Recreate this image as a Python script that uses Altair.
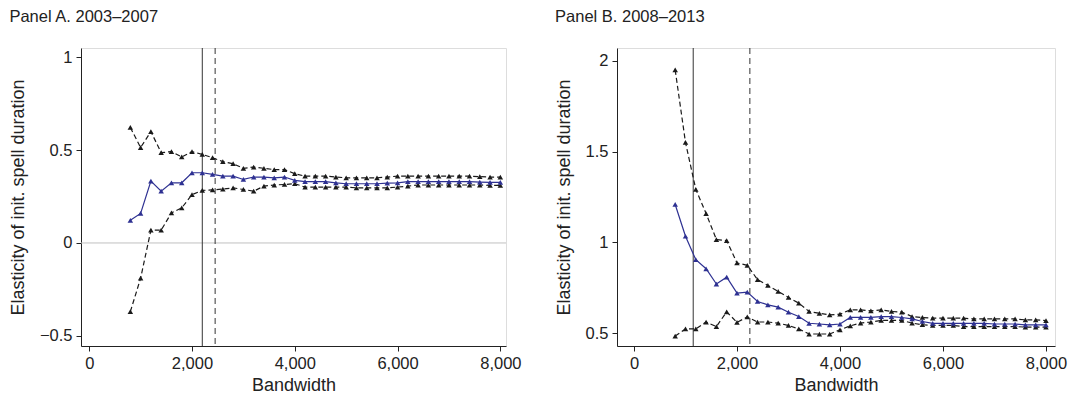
import altair as alt
import pandas as pd

bandwidth = list(range(800, 8001, 200))

a_lower = [-0.37, -0.19, 0.069, 0.069, 0.162, 0.189, 0.26, 0.283, 0.286, 0.29, 0.297, 0.288, 0.279,
           0.306, 0.312, 0.315, 0.319, 0.301, 0.301, 0.301, 0.301, 0.301, 0.297, 0.297, 0.297, 0.297,
           0.301, 0.306, 0.312, 0.312, 0.312, 0.312, 0.312, 0.312, 0.312, 0.31, 0.31]
a_upper = [0.622, 0.514, 0.6, 0.486, 0.492, 0.463, 0.492, 0.477, 0.459, 0.438, 0.427, 0.402, 0.409,
           0.402, 0.395, 0.395, 0.373, 0.36, 0.36, 0.36, 0.355, 0.351, 0.351, 0.351, 0.351, 0.355,
           0.36, 0.36, 0.36, 0.36, 0.36, 0.36, 0.36, 0.36, 0.357, 0.355, 0.355]
a_est = [0.122, 0.159, 0.333, 0.279, 0.324, 0.324, 0.378, 0.378, 0.369, 0.36, 0.36, 0.342, 0.355,
         0.355, 0.351, 0.355, 0.337, 0.33, 0.33, 0.33, 0.324, 0.319, 0.319, 0.319, 0.319, 0.322,
         0.324, 0.33, 0.33, 0.33, 0.33, 0.33, 0.33, 0.33, 0.328, 0.326, 0.326]

b_upper = [1.949, 1.55, 1.292, 1.159, 1.016, 1.01, 0.887, 0.874, 0.795, 0.763, 0.73, 0.697, 0.666,
           0.62, 0.61, 0.601, 0.605, 0.629, 0.629, 0.623, 0.629, 0.62, 0.617, 0.592, 0.587, 0.583,
           0.583, 0.583, 0.583, 0.579, 0.579, 0.579, 0.579, 0.579, 0.574, 0.574, 0.57]
b_est = [1.209, 1.034, 0.905, 0.855, 0.771, 0.809, 0.721, 0.727, 0.675, 0.656, 0.644, 0.616, 0.592,
         0.555, 0.551, 0.546, 0.551, 0.587, 0.587, 0.587, 0.592, 0.592, 0.587, 0.579, 0.565, 0.555,
         0.555, 0.555, 0.555, 0.555, 0.555, 0.551, 0.551, 0.551, 0.546, 0.546, 0.546]
b_lower = [0.485, 0.524, 0.524, 0.562, 0.537, 0.618, 0.56, 0.59, 0.562, 0.562, 0.556, 0.543, 0.524,
           0.496, 0.496, 0.496, 0.519, 0.541, 0.556, 0.562, 0.571, 0.571, 0.571, 0.556, 0.547, 0.543,
           0.543, 0.543, 0.537, 0.537, 0.537, 0.537, 0.537, 0.537, 0.534, 0.534, 0.534]

FONT = "Liberation Sans"
BLUE = "#2e3192"
INK = "#1a1a1a"


def panel(title, est, lower, upper, x_domain, width, y_domain, y_ticks, vlines, zero_line):
    x = alt.X("bw:Q", title="Bandwidth", scale=alt.Scale(domain=x_domain, nice=False),
              axis=alt.Axis(values=[0, 2000, 4000, 6000, 8000], format=",d", grid=False))
    y = alt.Y("val:Q", title="Elasticity of init. spell duration",
              scale=alt.Scale(domain=y_domain, nice=False, zero=False),
              axis=alt.Axis(values=y_ticks, grid=False, format="~g", titlePadding=12))

    layers = []
    if zero_line:
        zdf = pd.DataFrame({"val": [0]})
        layers.append(alt.Chart(zdf).mark_rule(color="#c0c0c0", strokeWidth=1).encode(y="val:Q"))
    vdf = pd.DataFrame({"bw": vlines[:1]})
    layers.append(alt.Chart(vdf).mark_rule(color="#333333", strokeWidth=1).encode(x="bw:Q"))
    vdf2 = pd.DataFrame({"bw": vlines[1:]})
    layers.append(alt.Chart(vdf2).mark_rule(color="#333333", strokeWidth=1, strokeDash=[6, 4]).encode(x="bw:Q"))

    for vals, col, dash in [(lower, INK, [5, 3]), (upper, INK, [5, 3]), (est, BLUE, None)]:
        df = pd.DataFrame({"bw": bandwidth, "val": vals})
        base = alt.Chart(df)
        if dash:
            ln = base.mark_line(color=col, strokeWidth=1.2, strokeDash=dash)
        else:
            ln = base.mark_line(color=col, strokeWidth=1.2)
        layers.append(ln.encode(x=x, y=y))
        layers.append(base.mark_point(shape="triangle-up", filled=True, size=30, opacity=1,
                                      color=col).encode(x=x, y=y))

    return alt.layer(*layers).properties(
        width=width, height=298,
        title=alt.TitleParams(title, anchor="start", frame="bounds", fontSize=16.5,
                              fontWeight="normal", font=FONT, offset=22, color="#222"))


a = panel("Panel A. 2003–2007", a_est, a_lower, a_upper, [-160, 8110], 425,
          [-0.555, 1.05], [-0.5, 0, 0.5, 1], [2200, 2450], True)
b = panel("Panel B. 2008–2013", b_est, b_lower, b_upper, [-330, 8175], 438,
          [0.43, 2.07], [0.5, 1, 1.5, 2], [1150, 2250], False)

chart = alt.hconcat(a, b, spacing=32).configure_view(stroke=None).configure(padding=0).configure_axis(
    labelFont=FONT, titleFont=FONT, labelFontSize=16.5, titleFontSize=18, titleFontWeight="normal",
    labelColor="#222", titleColor="#222", domainColor="#222", tickColor="#222", tickSize=5,
    labelPadding=4, titlePadding=5
)

chart.save("out.html", embed_options={"renderer": "svg", "actions": False})
